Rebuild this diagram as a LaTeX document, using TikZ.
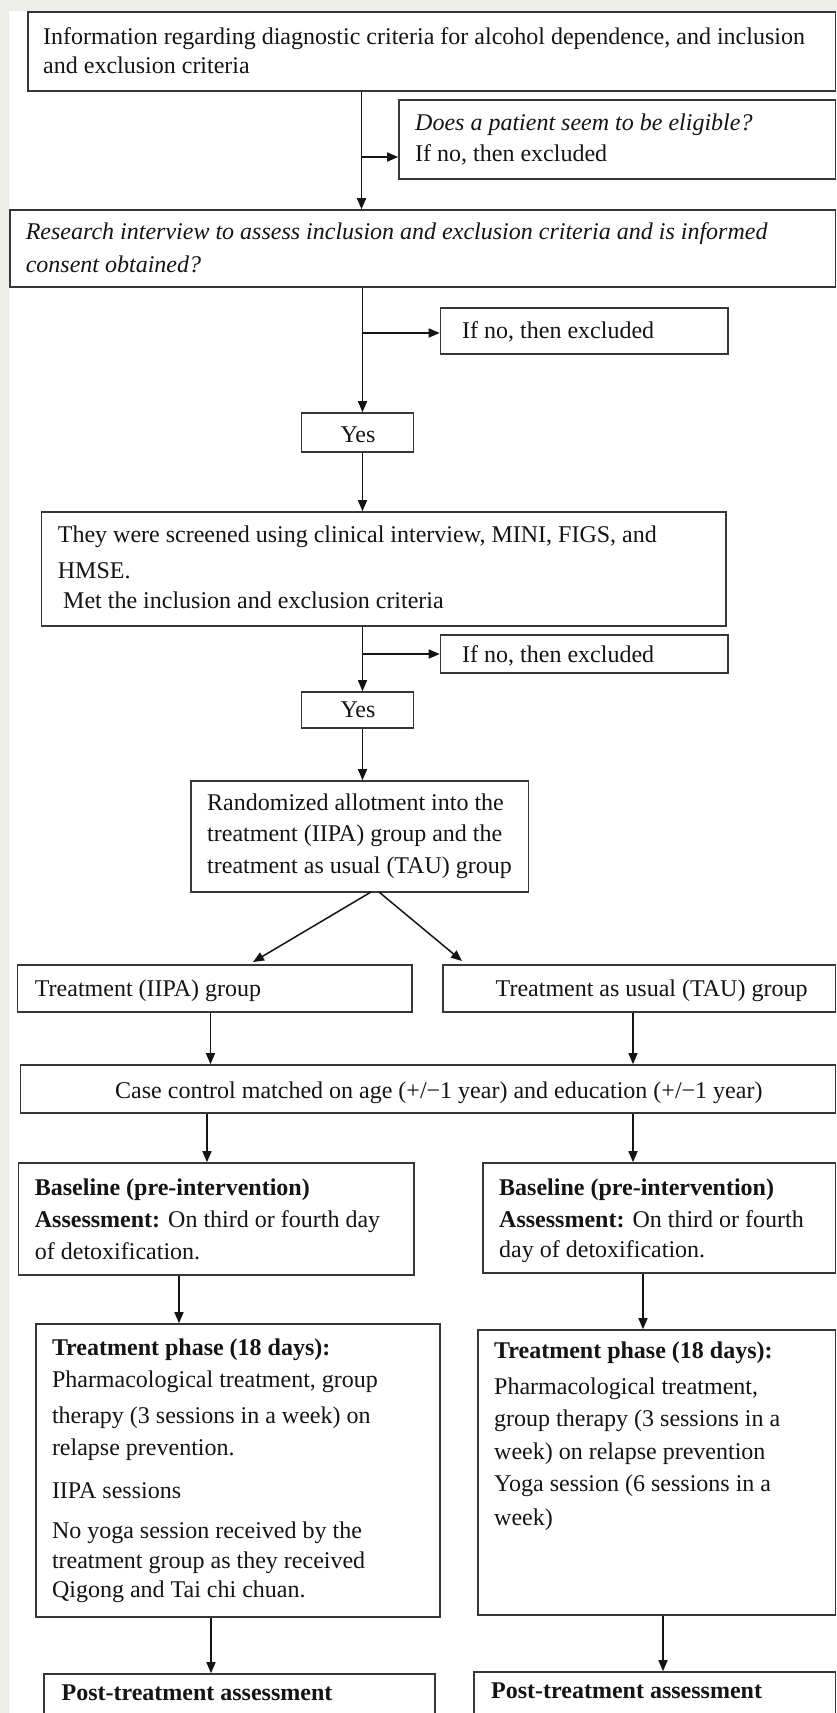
\documentclass[tikz,border=0pt]{standalone}
\usepackage{fontspec}
\setmainfont{Liberation Serif}
\usetikzlibrary{arrows.meta,fit}
\definecolor{bgc}{RGB}{239,237,231}
\definecolor{boxc}{RGB}{55,55,55}
\definecolor{inkc}{RGB}{20,20,20}
\begin{document}
\begin{tikzpicture}[x=1pt,y=-1pt,
  bx/.style={draw=boxc, line width=1.6pt, fill=white, inner sep=0pt},
  txt/.style={anchor=base west, inner sep=0pt, text=inkc, font=\fontsize{24}{28}\selectfont},
  ctr/.style={anchor=base, inner sep=0pt, text=inkc, font=\fontsize{24}{28}\selectfont},
  arr/.style={draw=inkc, line width=1.5pt, -{Triangle[length=11pt,width=9pt]}}
]
\useasboundingbox (0,0) rectangle (837,1713);
\clip (0,0) rectangle (837,1713);
\fill[bgc] (0,0) rectangle (837,1713);
\fill[white] (8.5,11) rectangle (837,1713);

% boxes
\node[bx, fit={(28,12) (835.5,91)}] (info) {};
\node[bx, fit={(399,100) (835.5,179)}] (does) {};
\node[bx, fit={(10,210) (835.5,287)}] (res) {};
\node[bx, fit={(440.5,308) (728,354)}] (no2) {};
\node[bx, fit={(301.6,413) (413.5,452)}] (yes1) {};
\node[bx, fit={(41.6,512) (726,626)}] (scr) {};
\node[bx, fit={(440.5,635) (728,673)}] (no3) {};
\node[bx, fit={(301.6,692) (413.5,728)}] (yes2) {};
\node[bx, fit={(191,781) (528.6,892)}] (rand) {};
\node[bx, fit={(17.5,965) (412,1012)}] (iipa) {};
\node[bx, fit={(443,965) (835.5,1012)}] (tau) {};
\node[bx, fit={(20.3,1065) (835.5,1113)}] (case) {};
\node[bx, fit={(18.5,1163) (414,1275)}] (baseL) {};
\node[bx, fit={(483,1163) (835.5,1273)}] (baseR) {};
\node[bx, fit={(36,1324) (440,1617)}] (trtL) {};
\node[bx, fit={(478,1330) (835.5,1615)}] (trtR) {};
\node[bx, fit={(43.8,1674) (435,1740)}] (postL) {};
\node[bx, fit={(474,1672) (835.5,1740)}] (postR) {};

% texts
\node[txt] (t1a) at (43,44) {Information regarding diagnostic criteria for alcohol dependence, and inclusion};
\node[txt] (t1b) at (43,73) {and exclusion criteria};
\node[txt] (t2a) at (415,130) {\itshape Does a patient seem to be eligible?};
\node[txt] (t2b) at (415,161) {If no, then excluded};
\node[txt] (t3a) at (25.6,239) {\itshape Research interview to assess inclusion and exclusion criteria and is informed};
\node[txt] (t3b) at (25.6,272) {\itshape consent obtained?};
\node[txt] (t4) at (462,338) {If no, then excluded};
\node[ctr] (t5) at (358,442) {Yes};
\node[txt] (t6a) at (57.7,542) {They were screened using clinical interview, MINI, FIGS, and};
\node[txt] (t6b) at (57.7,578) {HMSE.};
\node[txt] (t6c) at (63,608) {Met the inclusion and exclusion criteria};
\node[txt] (t7) at (462,662) {If no, then excluded};
\node[ctr] (t8) at (358,717) {Yes};
\node[txt] (t9a) at (207,810) {Randomized allotment into the};
\node[txt] (t9b) at (207,841) {treatment (IIPA) group and the};
\node[txt] (t9c) at (207,873) {treatment as usual (TAU) group};
\node[txt] (t10) at (34.7,996) {Treatment (IIPA) group};
\node[txt] (t11) at (495.5,996) {Treatment as usual (TAU) group};
\node[txt] (t12) at (115,1098) {Case control matched on age (+/−1 year) and education (+/−1 year)};
\node[txt] (t13a) at (34.7,1195) {\bfseries Baseline (pre-intervention)};
\node[txt] (t13b) at (34.7,1227) {{\bfseries Assessment:} On third or fourth day};
\node[txt] (t13c) at (34.7,1259) {of detoxification.};
\node[txt] (t14a) at (499,1195) {\bfseries Baseline (pre-intervention)};
\node[txt] (t14b) at (499,1227) {{\bfseries Assessment:} On third or fourth};
\node[txt] (t14c) at (499,1257) {day of detoxification.};
\node[txt] (t15a) at (51.8,1355) {\bfseries Treatment phase (18 days):};
\node[txt] (t15b) at (51.8,1387) {Pharmacological treatment, group};
\node[txt] (t15c) at (51.8,1423) {therapy (3 sessions in a week) on};
\node[txt] (t15d) at (51.8,1455) {relapse prevention.};
\node[txt] (t15e) at (51.8,1498) {IIPA sessions};
\node[txt] (t15f) at (51.8,1538) {No yoga session received by the};
\node[txt] (t15g) at (51.8,1568) {treatment group as they received};
\node[txt] (t15h) at (51.8,1597) {Qigong and Tai chi chuan.};
\node[txt] (t16a) at (494,1358) {\bfseries Treatment phase (18 days):};
\node[txt] (t16b) at (494,1394) {Pharmacological treatment,};
\node[txt] (t16c) at (494,1426.5) {group therapy (3 sessions in a};
\node[txt] (t16d) at (494,1459) {week) on relapse prevention};
\node[txt] (t16e) at (494,1491) {Yoga session (6 sessions in a};
\node[txt] (t16f) at (494,1525) {week)};
\node[txt] (t17) at (61.4,1700) {\bfseries Post-treatment assessment};
\node[txt] (t18) at (491,1698) {\bfseries Post-treatment assessment};

% connectors
\coordinate (c1) at (361.5,157);
\coordinate (c2) at (362.5,333);
\coordinate (c3) at (362.5,654);
\draw[arr] (info.south -| c1) -- (res.north -| c1);
\draw[arr] (c1) -- (does.west |- c1);
\draw[arr] (res.south -| c2) -- (yes1.north -| c2);
\draw[arr] (c2) -- (no2.west |- c2);
\draw[arr] (yes1.south -| c3) -- (scr.north -| c3);
\draw[arr] (scr.south -| c3) -- (yes2.north -| c3);
\draw[arr] (c3) -- (no3.west |- c3);
\draw[arr] (yes2.south -| c3) -- (rand.north -| c3);
\coordinate (d1) at (371,892);
\coordinate (d2) at (379,892);
\coordinate (d1e) at (253,962);
\coordinate (d2e) at (462,961);
\draw[arr] (d1) -- (d1e);
\draw[arr] (d2) -- (d2e);
\coordinate (e1) at (210.5,0);
\coordinate (e2) at (633,0);
\draw[arr] (iipa.south -| e1) -- (case.north -| e1);
\draw[arr] (tau.south -| e2) -- (case.north -| e2);
\coordinate (f1) at (207,0);
\draw[arr] (case.south -| f1) -- (baseL.north -| f1);
\draw[arr] (case.south -| e2) -- (baseR.north -| e2);
\coordinate (g1) at (179,0);
\coordinate (g2) at (643,0);
\draw[arr] (baseL.south -| g1) -- (trtL.north -| g1);
\draw[arr] (baseR.south -| g2) -- (trtR.north -| g2);
\coordinate (h1) at (211,0);
\coordinate (h2) at (663,0);
\draw[arr] (trtL.south -| h1) -- (postL.north -| h1);
\draw[arr] (trtR.south -| h2) -- (postR.north -| h2);
\end{tikzpicture}
\end{document}
